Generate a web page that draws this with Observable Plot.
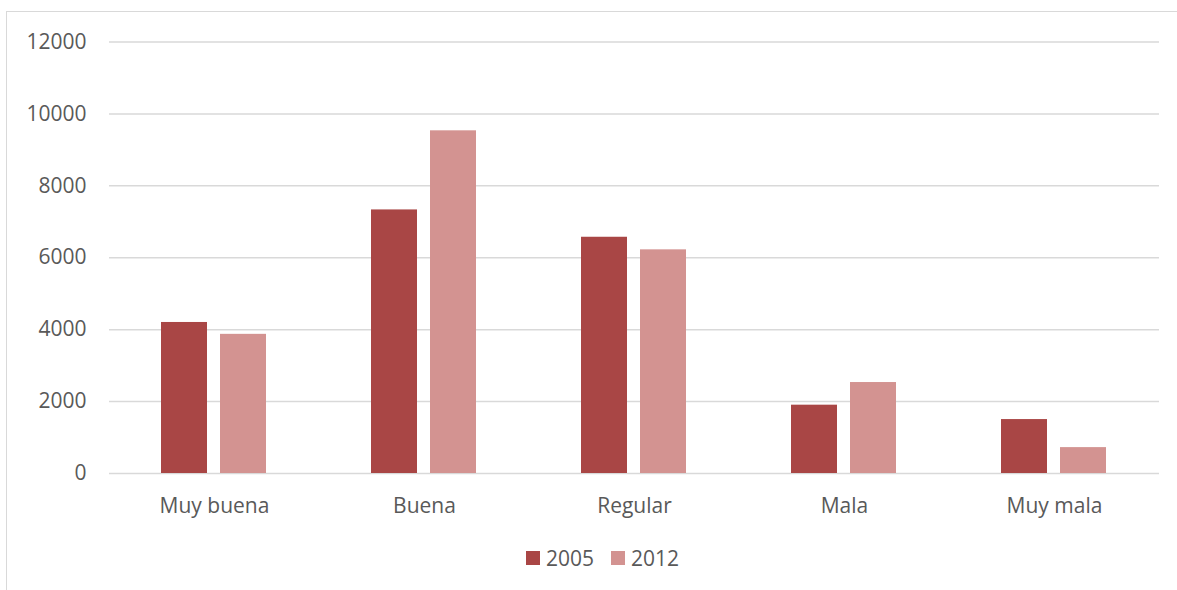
<!DOCTYPE html>
<html>
<head>
<meta charset="utf-8">
<script src="https://cdn.jsdelivr.net/npm/d3@7"></script>
<script src="https://cdn.jsdelivr.net/npm/@observablehq/plot@0.6"></script>
<style>
  body { margin: 0; width: 1177px; height: 590px; overflow: hidden; background: #fff; font-family: "Open Sans", sans-serif; }
  #frame { position: absolute; left: 6px; top: 11px; width: 1220px; height: 640px; border: 1.5px solid #d9d9d9; }
  #chart { position: absolute; left: 0; top: 0; }
  #legend { position: absolute; left: 526px; top: 544px; display: flex; align-items: center; font-size: 21px; color: #595959; line-height: 28px; }
  #legend .item { display: flex; align-items: center; margin-right: 17px; }
  #legend .sw { width: 14px; height: 14px; display: inline-block; margin-right: 6px; }
</style>
</head>
<body>
<div id="frame"></div>
<div id="chart"></div>
<div id="legend"></div>
<script>
// Self-rated condition, counts by category for two survey years
const categories = ["Muy buena", "Buena", "Regular", "Mala", "Muy mala"];
const years = ["2005", "2012"];
const values2005 = [4200, 7330, 6570, 1900, 1500];
const values2012 = [3870, 9530, 6220, 2530, 720];
const yTicks = [0, 2000, 4000, 6000, 8000, 10000, 12000];
const colors = ["#a94645", "#d39391"];

const seriesByYear = { "2005": values2005, "2012": values2012 };
const data = categories.flatMap((category, i) =>
  years.map(year => ({ category, year, value: seriesByYear[year][i] }))
);

const chart = Plot.plot({
  width: 1177,
  height: 530,
  marginLeft: 107,
  marginRight: 17,
  marginTop: 41.5,
  marginBottom: 57,
  style: { fontFamily: "'Open Sans', sans-serif", fontSize: "21px", color: "#595959", background: "transparent", overflow: "visible" },
  fx: { domain: categories, padding: 0, label: null, axis: "bottom", tickSize: 0, tickPadding: 25 },
  x: { domain: years, paddingInner: 13 / 60, paddingOuter: 0.863, axis: null },
  y: { domain: [0, 12000], ticks: yTicks, tickFormat: d => String(d), label: null, tickSize: 0, tickPadding: 23 },
  color: { domain: years, range: colors },
  marks: [
    Plot.ruleY(yTicks, { stroke: "#d9d9d9", strokeWidth: 1.5 }),
    Plot.barY(data, { fx: "category", x: "year", y: "value", fill: "year" })
  ]
});
document.getElementById("chart").appendChild(chart);

// Legend below the plot
const legend = document.getElementById("legend");
years.forEach((year, i) => {
  const item = document.createElement("span");
  item.className = "item";
  const sw = document.createElement("span");
  sw.className = "sw";
  sw.style.background = colors[i];
  item.appendChild(sw);
  item.appendChild(document.createTextNode(year));
  legend.appendChild(item);
});
</script>
</body>
</html>
